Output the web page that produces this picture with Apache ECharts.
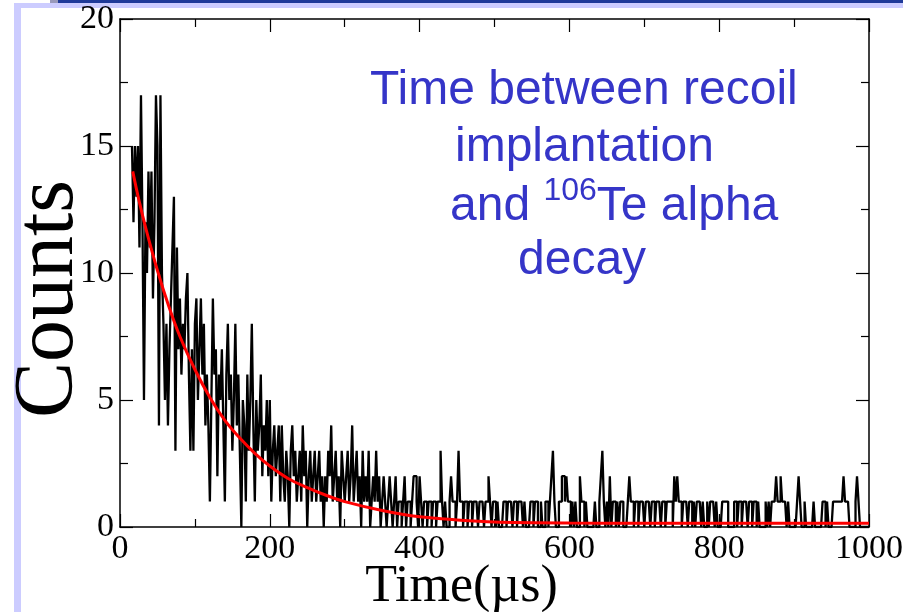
<!DOCTYPE html>
<html><head><meta charset="utf-8">
<script src="https://cdn.jsdelivr.net/npm/echarts@6/dist/echarts.min.js"></script>
<style>html,body{margin:0;padding:0;background:#fff}#c{width:903px;height:612px}</style>
</head><body><div id="c"></div>
<script>
// Histogram: 2 µs bins starting at 16 µs
const binStart = 16;
const binWidth = 2;
const counts = [
// 16-64
15,12,15,13,15,11,17,12,5,12,10,14,11,14,9,12,17,15,4,17,10,8,5,8,4,
// 66-114
7,9,11,13,3,11,7,9,6,8,7,9,10,6,3,7,3,8,9,5,7,9,6,8,4,
// 116-164
6,4,1,5,9,6,7,2,6,5,7,4,1,6,8,5,6,3,5,8,4,6,3,0,5,
// 166-214
4,1,6,3,5,8,4,1,5,3,4,6,2,4,3,5,2,5,1,3,4,2,3,4,1,
// 216-264
4,2,1,3,2,0,3,4,2,3,1,2,3,1,4,2,3,0,2,3,1,2,3,1,2,
// 266-314
3,1,2,0,2,1,3,2,4,1,2,3,1,2,0,3,2,1,2,3,1,2,4,1,2,
// 316-364
3,1,2,0,3,1,2,1,3,0,1,2,1,3,1,2,0,1,2,1,0,1,2,1,0,
// 366-414
1,2,0,1,1,0,1,2,0,1,1,0,1,2,2,1,0,2,1,0,1,1,0,1,1,
// 416-464
0,1,1,0,1,1,3,1,0,1,0,0,1,2,1,1,0,1,3,1,1,0,1,1,0,
// 466-514
1,1,0,1,1,1,0,1,1,1,0,1,1,2,1,0,1,1,0,1,0,0,0,1,1,
// 516-564
0,1,1,1,0,1,1,0,1,1,1,0,1,0,0,0,1,1,0,1,1,0,0,1,0,
// 566-614
0,1,1,0,1,2,3,1,0,0,1,1,2,2,1,2,1,1,0,1,0,1,0,0,2,
// 616-664
1,1,0,1,0,0,0,0,0,1,0,0,1,2,3,1,0,1,0,2,0,1,1,0,1,
// 666-714
0,1,1,0,0,0,1,2,1,1,0,1,1,0,1,1,1,0,1,1,1,0,1,1,0,
// 716-764
1,1,1,0,1,1,0,1,1,1,1,0,2,1,2,1,1,0,1,1,1,0,1,1,0,
// 766-814
1,0,1,1,1,0,1,0,0,1,0,1,1,1,0,1,0,0,0,1,1,1,1,0,0,
// 816-864
0,0,1,1,0,1,1,0,1,1,1,0,1,1,0,1,1,0,1,0,0,0,0,1,0,
// 866-914
1,0,1,1,1,2,1,1,2,1,1,1,0,1,0,0,0,0,0,1,2,1,0,0,1,
// 916-964
0,0,0,0,0,1,0,0,0,0,0,1,1,0,1,0,0,0,1,1,1,1,1,1,1,
// 966-998
2,1,1,1,0,0,0,0,1,2,1,0,0,0,0,0,0
];
// Fit curve points
const fitT = [17,25,35,50,65,80,100,120,140,160,180,200,225,250,275,300,350,400,450,500,600,700,800,900,1000];
const fitY = [14.0,12.9,11.7,10.1,8.7,7.5,6.2,5.1,4.2,3.5,2.9,2.4,1.9,1.55,1.25,1.0,0.65,0.4,0.28,0.2,0.16,0.15,0.15,0.15,0.15];
const xTicks = [0,200,400,600,800,1000];
const yTicks = [0,5,10,15,20];

const histData = counts.map((v,i)=>[binStart+i*binWidth, v]);
histData.push([1000, counts[counts.length-1]]);
const fitData = fitT.map((t,i)=>[t, fitY[i]]);

const chart = echarts.init(document.getElementById('c'), null, {renderer:'canvas'});
const serif = '"Liberation Serif","DejaVu Serif",serif';
const lbl = {fontFamily:serif, fontSize:34, color:'#000', formatter:(v)=>String(v)};
const axLine = {show:true, onZero:false, lineStyle:{color:'#000', width:1.5}};
const tick = {show:true, inside:true, length:13, lineStyle:{color:'#000', width:1.2}};
const minor = {show:true, splitNumber:2, length:8, lineStyle:{color:'#000', width:1.2}};
chart.setOption({
  animation:false,
  backgroundColor:'#fff',
  grid:{left:120, right:34, top:19, bottom:85, containLabel:false, outerBoundsMode:'none'},
  xAxis:[
    {type:'value', min:0, max:1000, interval:200, position:'bottom',
     axisLine:axLine, axisTick:tick, minorTick:minor, splitLine:{show:false},
     axisLabel:Object.assign({margin:5}, lbl),
     name:'Time(\u00b5s)', nameLocation:'middle', nameGap:34, nameMoveOverlap:false,
     nameTextStyle:{fontFamily:serif, fontSize:52, color:'#000', padding:[0,66,0,0]}},
    {type:'value', min:0, max:1000, interval:200, position:'top',
     axisLine:axLine, axisTick:tick, minorTick:minor, splitLine:{show:false},
     axisLabel:{show:false}}
  ],
  yAxis:[
    {type:'value', min:0, max:20, interval:5, position:'left',
     axisLine:axLine, axisTick:tick, minorTick:minor, splitLine:{show:false},
     axisLabel:Object.assign({margin:6}, lbl),
     name:'Counts', nameLocation:'middle', nameGap:28, nameRotate:90, nameMoveOverlap:false,
     nameTextStyle:{fontFamily:serif, fontSize:84, color:'#000', padding:[0,52,0,0]}},
    {type:'value', min:0, max:20, interval:5, position:'right',
     axisLine:axLine, axisTick:tick, minorTick:minor, splitLine:{show:false},
     axisLabel:{show:false}}
  ],
  series:[
    {type:'line', data:histData, step:'end', symbol:'none', xAxisIndex:0, yAxisIndex:0,
     lineStyle:{color:'#000', width:2.3}, z:2},
    {type:'line', data:fitData, smooth:0.3, symbol:'none', xAxisIndex:0, yAxisIndex:0,
     lineStyle:{color:'#ff0000', width:3}, z:3}
  ],
  graphic:[
    {type:'rect', shape:{x:14, y:3, width:7, height:609}, style:{fill:'#ccccff'}, silent:true},
    {type:'rect', shape:{x:14, y:3, width:889, height:5}, style:{fill:'#ccccff'}, silent:true},
    {type:'rect', shape:{x:50, y:0, width:8, height:3}, style:{fill:'#9999bb'}, silent:true},
    {type:'rect', shape:{x:58, y:0, width:845, height:3}, style:{fill:'#1f3a99'}, silent:true},
    {type:'text', left:370, top:67, style:{text:'Time between recoil', font:'48px "Liberation Sans", Arial, sans-serif', fill:'#3535c8'}},
    {type:'text', left:455, top:124, style:{text:'implantation', font:'48px "Liberation Sans", Arial, sans-serif', fill:'#3535c8'}},
    {type:'text', left:450, top:175, style:{
      text:'{n|and }{s|106}{n|Te alpha}',
      rich:{
        n:{fontFamily:'"Liberation Sans", Arial, sans-serif', fontSize:48, fill:'#3535c8', verticalAlign:'bottom', lineHeight:56},
        s:{fontFamily:'"Liberation Sans", Arial, sans-serif', fontSize:32, fill:'#3535c8', verticalAlign:'top', lineHeight:56, padding:[0,0,22,0]}
      }}},
    {type:'text', left:518, top:237, style:{text:'decay', font:'48px "Liberation Sans", Arial, sans-serif', fill:'#3535c8'}}
  ]
});
</script></body></html>
